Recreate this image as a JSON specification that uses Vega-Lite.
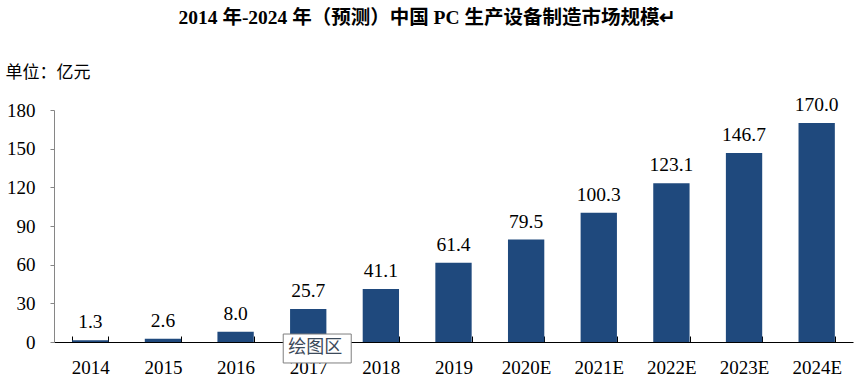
{
  "$schema": "https://vega.github.io/schema/vega-lite/v6.json",
  "width": 799,
  "height": 232,
  "autosize": "none",
  "padding": {"left": 54, "top": 110, "right": 3, "bottom": 46},
  "background": "white",
  "title": {
    "text": "2014 年-2024 年（预测）中国 PC 生产设备制造市场规模↵",
    "font": "Liberation Serif, Noto Sans CJK SC",
    "fontSize": 19.5,
    "fontWeight": "bold",
    "color": "#000000",
    "anchor": "middle",
    "offset": 35,
    "dx": -26
  },
  "config": {
    "view": {"stroke": null},
    "font": "Liberation Serif, Noto Sans CJK SC"
  },
  "datasets": {
    "bars": [
      {"year": "2014", "value": 1.3},
      {"year": "2015", "value": 2.6},
      {"year": "2016", "value": 8.0},
      {"year": "2017", "value": 25.7},
      {"year": "2018", "value": 41.1},
      {"year": "2019", "value": 61.4},
      {"year": "2020E", "value": 79.5},
      {"year": "2021E", "value": 100.3},
      {"year": "2022E", "value": 123.1},
      {"year": "2023E", "value": 146.7},
      {"year": "2024E", "value": 170.0}
    ],
    "tip": [
      {"year": "2017", "value": 0, "label": "绘图区"}
    ]
  },
  "encoding": {
    "x": {
      "field": "year",
      "type": "nominal",
      "sort": null,
      "scale": {"paddingInner": 0.5, "paddingOuter": 0.25},
      "axis": {
        "title": null,
        "labelAngle": 0,
        "labelFont": "Liberation Serif",
        "labelFontSize": 19,
        "labelColor": "#000000",
        "labelPadding": 22,
        "domainColor": "#000000",
        "domainWidth": 1,
        "tickColor": "#000000",
        "tickSize": -6,
        "tickBand": "extent",
        "grid": false
      }
    },
    "y": {
      "field": "value",
      "type": "quantitative",
      "scale": {"domain": [0, 180], "nice": false},
      "axis": {
        "title": "单位：亿元",
        "titleAngle": 0,
        "titleAlign": "left",
        "titleBaseline": "middle",
        "titleX": -49,
        "titleY": -38,
        "titleFont": "Liberation Serif, Noto Sans CJK SC",
        "titleFontSize": 17,
        "titleFontWeight": "normal",
        "titleColor": "#000000",
        "values": [0, 30, 60, 90, 120, 150, 180],
        "labelFont": "Liberation Serif",
        "labelFontSize": 19,
        "labelColor": "#000000",
        "labelPadding": 15,
        "tickSize": 4,
        "tickColor": "#868686",
        "domainColor": "#868686",
        "grid": false
      }
    }
  },
  "layer": [
    {
      "data": {"name": "bars"},
      "mark": {"type": "bar", "color": "#1F497D"},
      "encoding": {}
    },
    {
      "data": {"name": "bars"},
      "mark": {"type": "text", "baseline": "alphabetic", "dy": -12, "fontSize": 19.5, "font": "Liberation Serif", "color": "#000000"},
      "encoding": {
        "text": {"field": "value", "type": "quantitative", "format": ".1f"}
      }
    },
    {
      "data": {"name": "tip"},
      "mark": {
        "type": "point",
        "shape": "M-1,-0.426L1,-0.426L1,0.426L-1,0.426Z",
        "size": 4624,
        "filled": true,
        "fill": "#ffffff",
        "stroke": "#7f7f7f",
        "strokeWidth": 1,
        "opacity": 1,
        "xOffset": 9,
        "yOffset": 6.5
      },
      "encoding": {}
    },
    {
      "data": {"name": "tip"},
      "mark": {
        "type": "text",
        "font": "Noto Sans CJK SC",
        "fontSize": 18,
        "color": "#3c4a5a",
        "align": "center",
        "baseline": "middle",
        "xOffset": 7,
        "yOffset": 6
      },
      "encoding": {
        "text": {"field": "label", "type": "nominal"}
      }
    }
  ]
}
